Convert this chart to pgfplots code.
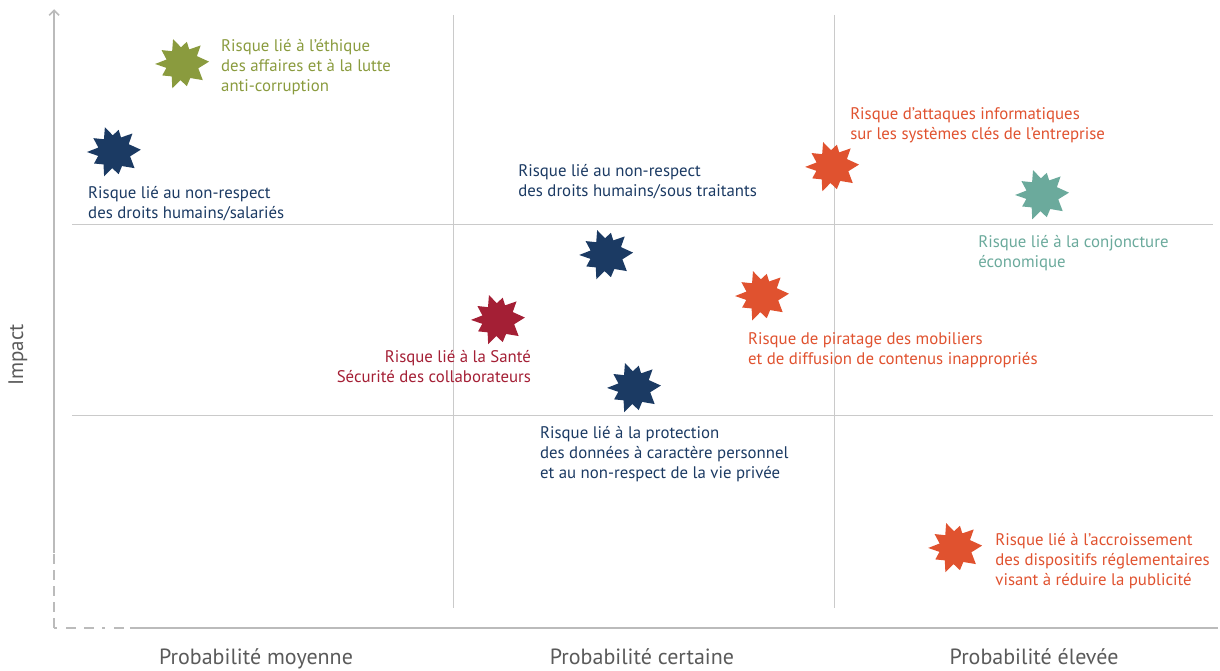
\documentclass[border=0pt]{standalone}
\usepackage{fontspec}
\setmainfont{PT Sans}
\usepackage{pgfplots}
\pgfplotsset{compat=1.18}
\usetikzlibrary{arrows.meta}

\definecolor{navy}{HTML}{1B3A63}
\definecolor{olive}{HTML}{8A9B3E}
\definecolor{rouge}{HTML}{E0522F}
\definecolor{crimson}{HTML}{A41F35}
\definecolor{teal}{HTML}{6BAA9C}
\definecolor{txtgray}{HTML}{5A5A5A}
\definecolor{axgray}{HTML}{BBBBBB}
\definecolor{gridgray}{HTML}{CACACA}

\tikzset{lbl/.style={font=\fontsize{16.8}{20}\selectfont, align=left, inner sep=0pt, anchor=north west}}

% irregular burst used for every risk
\pgfdeclareplotmark{burst}{%
  \pgfpathmoveto{\pgfpointpolar{180}{1.0*\pgfplotmarksize}}%
  \pgfpathlineto{\pgfpointpolar{164}{0.6*\pgfplotmarksize}}%
  \pgfpathlineto{\pgfpointpolar{146}{0.92*\pgfplotmarksize}}%
  \pgfpathlineto{\pgfpointpolar{128}{0.6*\pgfplotmarksize}}%
  \pgfpathlineto{\pgfpointpolar{110}{0.98*\pgfplotmarksize}}%
  \pgfpathlineto{\pgfpointpolar{94}{0.62*\pgfplotmarksize}}%
  \pgfpathlineto{\pgfpointpolar{78}{0.84*\pgfplotmarksize}}%
  \pgfpathlineto{\pgfpointpolar{64}{0.6*\pgfplotmarksize}}%
  \pgfpathlineto{\pgfpointpolar{45}{0.97*\pgfplotmarksize}}%
  \pgfpathlineto{\pgfpointpolar{28}{0.62*\pgfplotmarksize}}%
  \pgfpathlineto{\pgfpointpolar{5}{1.0*\pgfplotmarksize}}%
  \pgfpathlineto{\pgfpointpolar{-15}{0.62*\pgfplotmarksize}}%
  \pgfpathlineto{\pgfpointpolar{-38}{0.97*\pgfplotmarksize}}%
  \pgfpathlineto{\pgfpointpolar{-60}{0.6*\pgfplotmarksize}}%
  \pgfpathlineto{\pgfpointpolar{-78}{0.84*\pgfplotmarksize}}%
  \pgfpathlineto{\pgfpointpolar{-96}{0.6*\pgfplotmarksize}}%
  \pgfpathlineto{\pgfpointpolar{-112}{0.97*\pgfplotmarksize}}%
  \pgfpathlineto{\pgfpointpolar{-130}{0.6*\pgfplotmarksize}}%
  \pgfpathlineto{\pgfpointpolar{-150}{0.85*\pgfplotmarksize}}%
  \pgfpathlineto{\pgfpointpolar{-166}{0.6*\pgfplotmarksize}}%
  \pgfpathclose
  \pgfusepathqfill
}

\begin{document}
\begin{tikzpicture}
\begin{axis}[
    hide axis,
    scale only axis,
    width=1220pt,
    height=670pt,
    xmin=-0.189, xmax=3.013,
    ymin=-0.33, ymax=3.178,
    clip=false,
    every axis plot/.append style={only marks, mark=burst, mark size=27pt},
]

% grid
\draw[gridgray, line width=1pt] (axis cs:1,3.10) -- (axis cs:1,-0.005);
\draw[gridgray, line width=1pt] (axis cs:2,3.10) -- (axis cs:2,-0.005);
\draw[gridgray, line width=1pt] (axis cs:0,2) -- (axis cs:2.995,2);
\draw[gridgray, line width=1pt] (axis cs:0,1) -- (axis cs:2.995,1);

% axes
\draw[axgray, line width=2.5pt, -{Straight Barb[length=5pt,width=10pt,line width=1.6pt]}] (axis cs:-0.047,0.283) -- (axis cs:-0.047,3.13);
\draw[axgray, line width=2.5pt, dash pattern=on 10pt off 6pt] (axis cs:-0.047,-0.110) -- (axis cs:-0.047,0.283);
\draw[axgray, line width=2.5pt, dash pattern=on 3pt off 9pt on 10pt off 8pt on 10pt off 8pt] (axis cs:-0.047,-0.110) -- (axis cs:0.152,-0.110);
\draw[axgray, line width=2.5pt] (axis cs:0.152,-0.110) -- (axis cs:3.008,-0.110);

% risks
\addplot[color=olive, mark options={fill=olive}] coordinates {(0.289,2.843)};
\addplot[color=navy, mark options={fill=navy}] coordinates {(0.110,2.382) (1.402,1.843) (1.475,1.147)};
\addplot[color=rouge, mark options={fill=rouge}] coordinates {(1.995,2.304) (1.811,1.628) (2.318,0.309)};
\addplot[color=teal, mark options={fill=teal}] coordinates {(2.546,2.157)};
\addplot[color=crimson, mark options={fill=crimson}] coordinates {(1.118,1.503)};

% labels
\node[lbl, olive] at (axis cs:0.391,2.974) {Risque lié à l’éthique\\des affaires et à la lutte\\anti-corruption};
\node[lbl, navy] at (axis cs:0.042,2.204) {Risque lié au non-respect\\des droits humains/salariés};
\node[lbl, navy] at (axis cs:1.171,2.319) {Risque lié au non-respect\\des droits humains/sous traitants};
\node[lbl, rouge] at (axis cs:2.042,2.618) {Risque d’attaques informatiques\\sur les systèmes clés de l’entreprise};
\node[lbl, teal] at (axis cs:2.378,1.948) {Risque lié à la conjoncture\\économique};
\node[lbl, rouge] at (axis cs:1.774,1.440) {Risque de piratage des mobiliers\\et de diffusion de contenus inappropriés};
\node[lbl, crimson, align=right, anchor=north east] at (axis cs:1.205,1.346) {Risque lié à la Santé\\Sécurité des collaborateurs};
\node[lbl, navy] at (axis cs:1.228,0.948) {Risque lié à la protection\\des données à caractère personnel\\et au non-respect de la vie privée};
\node[lbl, rouge] at (axis cs:2.423,0.387) {Risque lié à l’accroissement\\des dispositifs réglementaires\\visant à réduire la publicité};

% axis titles
\node[txtgray, font=\fontsize{22}{26}\selectfont, anchor=base] at (axis cs:0.483,-0.300) {Probabilité moyenne};
\node[txtgray, font=\fontsize{22}{26}\selectfont, anchor=base] at (axis cs:1.496,-0.300) {Probabilité certaine};
\node[txtgray, font=\fontsize{22}{26}\selectfont, anchor=base] at (axis cs:2.525,-0.300) {Probabilité élevée};
\node[txtgray, font=\fontsize{21}{25}\selectfont, rotate=90] at (axis cs:-0.142,1.319) {Impact};
\end{axis}
\pgfresetboundingbox
\path (current axis.south west) rectangle (current axis.north east);
\end{tikzpicture}
\end{document}
